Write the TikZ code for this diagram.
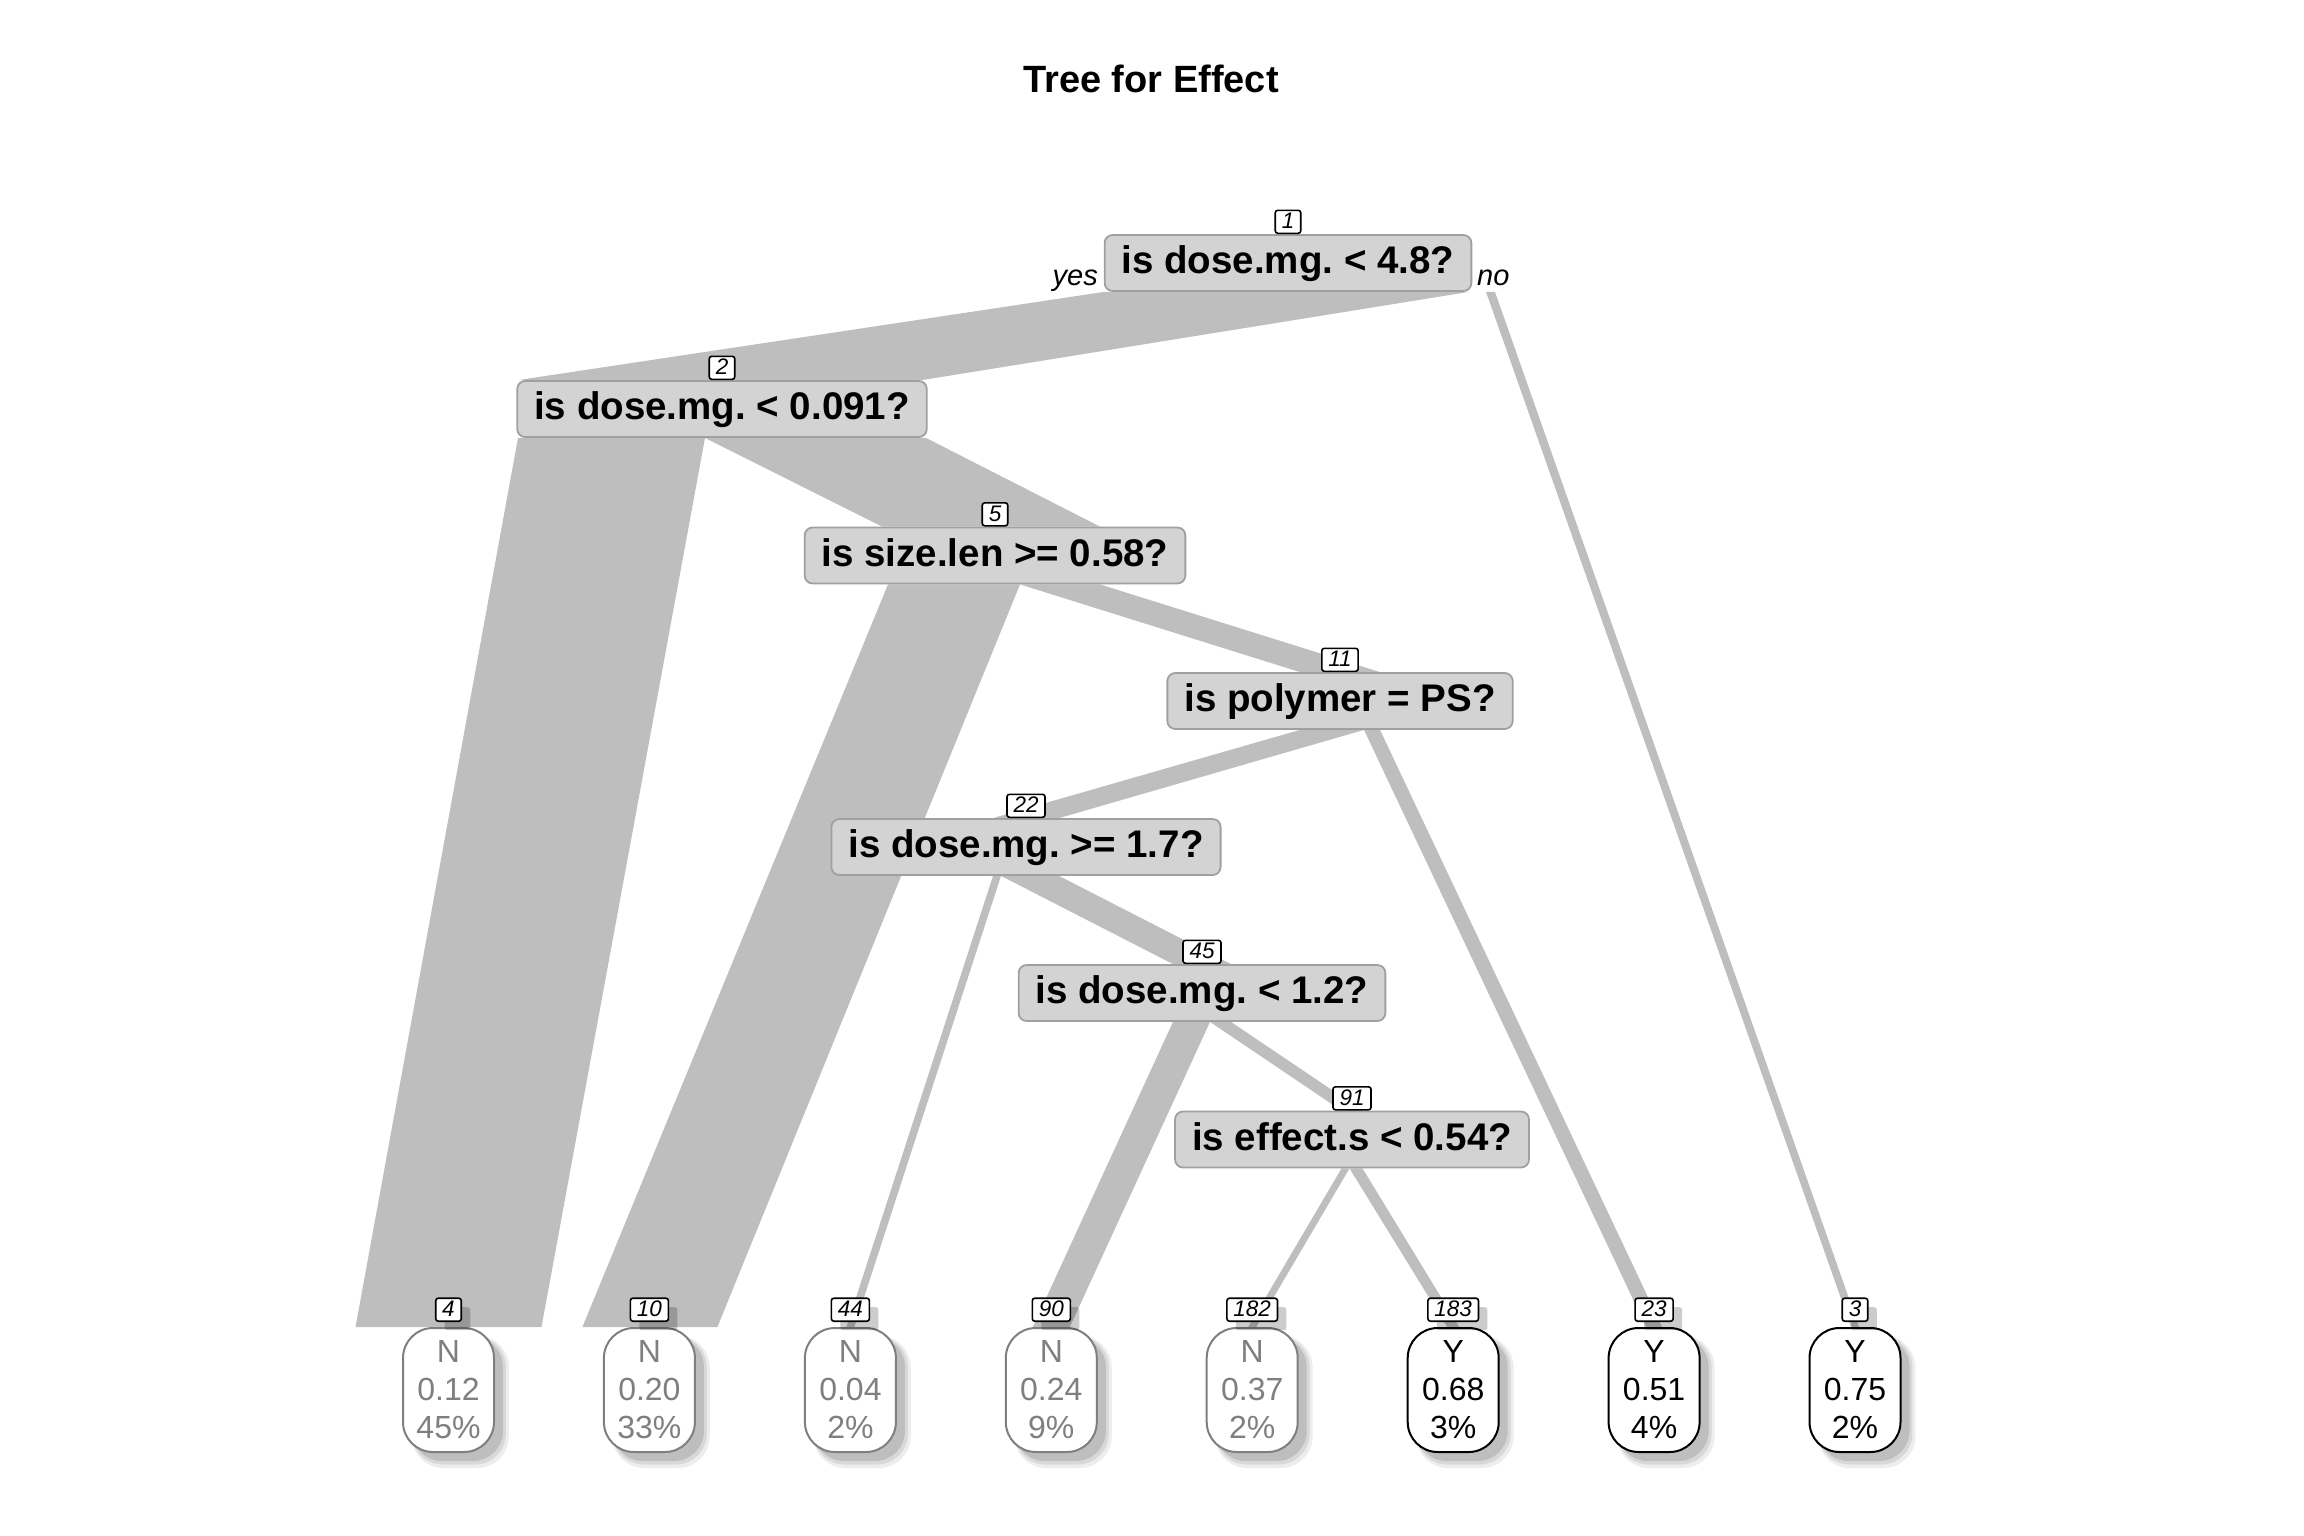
\documentclass[tikz,border=0pt]{standalone}
\usepackage{fontspec}
\setmainfont{Liberation Sans}
\usetikzlibrary{shadows}
\definecolor{bandgray}{RGB}{190,190,190}
\definecolor{splitfill}{RGB}{211,211,211}
\definecolor{splitdraw}{RGB}{160,160,160}
\definecolor{leafgray}{RGB}{127,127,127}
\pgfdeclarelayer{bg}
\pgfsetlayers{bg,main}
\frenchspacing
\begin{document}
\begin{tikzpicture}[x=1pt,y=-1pt,
  band/.style={fill=bandgray,draw=none},
  split/.style={draw=splitdraw,fill=splitfill,line width=1.8pt,rounded corners=8pt,
    minimum height=56pt,inner xsep=17pt,inner ysep=0pt,
    font=\fontsize{38.5}{44}\selectfont\bfseries,text height=28pt,text depth=7pt},
  leafshadow/.style={
    drop shadow={shadow xshift=11pt,shadow yshift=-11pt,shadow scale=1.07,fill=black,opacity=0.07},
    drop shadow={shadow xshift=10pt,shadow yshift=-10pt,shadow scale=1.035,fill=black,opacity=0.09},
    drop shadow={shadow xshift=9pt,shadow yshift=-9pt,fill=black,opacity=0.12}},
  leafbase/.style={fill=white,line width=2pt,rounded corners=30pt,minimum width=91pt,
    minimum height=124pt,inner sep=0pt,align=center,
    font=\fontsize{32}{38}\selectfont,leafshadow},
  leafN/.style={leafbase,draw=leafgray,text=leafgray},
  leafY/.style={leafbase,draw=black,text=black},
  numbox/.style={draw=black,fill=white,line width=1.6pt,rounded corners=2.5pt,
    inner xsep=6.5pt,inner ysep=2.5pt,font=\fontsize{22.5}{26}\selectfont\itshape,
    text height=16pt,text depth=2pt},
  numshadow/.style={
    drop shadow={shadow xshift=9pt,shadow yshift=-9pt,fill=black,opacity=0.2}},
  leafnum/.style={numbox,numshadow,anchor=south},
  yn/.style={font=\fontsize{29}{34}\selectfont\itshape,inner sep=0pt}
]
\useasboundingbox (0,0) rectangle (2304,1536);

% title
\node[font=\fontsize{38}{44}\selectfont\bfseries,anchor=base] (title) at (1151,93) {Tree for Effect};

% split nodes
\node[split] (n1) at (1288,263) {is dose.mg. < 4.8?};
\node[split] (n2) at (722,409) {is dose.mg. < 0.091?};
\node[split] (n5) at (995,555.5) {is size.len >= 0.58?};
\node[split] (n11) at (1340,701) {is polymer = PS?};
\node[split] (n22) at (1026,847) {is dose.mg. >= 1.7?};
\node[split] (n45) at (1202,993) {is dose.mg. < 1.2?};
\node[split] (n91) at (1352,1139.5) {is effect.s < 0.54?};

% split node numbers
\node[numbox,anchor=south] (k1) at (n1.north) {1};
\node[numbox,anchor=south] (k2) at (n2.north) {2};
\node[numbox,anchor=south] (k5) at (n5.north) {5};
\node[numbox,anchor=south] (k11) at (n11.north) {11};
\node[numbox,anchor=south] (k22) at (n22.north) {22};
\node[numbox,anchor=south] (k45) at (n45.north) {45};
\node[numbox,anchor=south] (k91) at (n91.north) {91};

% yes / no
\node[yn,anchor=base east] (yes) at (1098,285) {yes};
\node[yn,anchor=base west] (no) at (1477,285) {no};

% leaves
\node[leafN] (l4) at (448.5,1390) {N\\0.12\\45\%};
\node[leafN] (l10) at (649.4,1390) {N\\0.20\\33\%};
\node[leafN] (l44) at (850.4,1390) {N\\0.04\\2\%};
\node[leafN] (l90) at (1051.3,1390) {N\\0.24\\9\%};
\node[leafN] (l182) at (1252.2,1390) {N\\0.37\\2\%};
\node[leafY] (l183) at (1453.2,1390) {Y\\0.68\\3\%};
\node[leafY] (l23) at (1654.1,1390) {Y\\0.51\\4\%};
\node[leafY] (l3) at (1855,1390) {Y\\0.75\\2\%};

% leaf numbers
\node[leafnum] (k4) at ([yshift=5pt]l4.north) {4};
\node[leafnum] (k10) at ([yshift=5pt]l10.north) {10};
\node[leafnum] (k44) at ([yshift=5pt]l44.north) {44};
\node[leafnum] (k90) at ([yshift=5pt]l90.north) {90};
\node[leafnum] (k182) at ([yshift=5pt]l182.north) {182};
\node[leafnum] (k183) at ([yshift=5pt]l183.north) {183};
\node[leafnum] (k23) at ([yshift=5pt]l23.north) {23};
\node[leafnum] (k3) at ([yshift=5pt]l3.north) {3};

% branches (behind everything)
\begin{pgfonlayer}{bg}
\fill[band] ([xshift=-184pt]n1.south) -- ([xshift=181pt]n1.south) -- ([xshift=200pt]n2.north) -- ([xshift=-204pt]n2.north) -- cycle;
\fill[band] ([xshift=198pt]n1.south) -- ([xshift=207pt]n1.south) -- ([xshift=4pt]l3.north) -- ([xshift=-4pt]l3.north) -- cycle;
\fill[band] ([xshift=-204pt]n2.south) -- ([xshift=-17pt]n2.south) -- ([xshift=93pt]l4.north) -- ([xshift=-93pt]l4.north) -- cycle;
\fill[band] ([xshift=-17pt]n2.south) -- ([xshift=204pt]n2.south) -- ([xshift=105pt]n5.north) -- ([xshift=-113pt]n5.north) -- cycle;
\fill[band] ([xshift=-107pt]n5.south) -- ([xshift=25pt]n5.south) -- ([xshift=68pt]l10.north) -- ([xshift=-67pt]l10.north) -- cycle;
\fill[band] ([xshift=25pt]n5.south) -- ([xshift=105pt]n5.south) -- ([xshift=40pt]n11.north) -- ([xshift=-40pt]n11.north) -- cycle;
\fill[band] ([xshift=-40pt]n11.south) -- ([xshift=24pt]n11.south) -- ([xshift=33pt]n22.north) -- ([xshift=-33pt]n22.north) -- cycle;
\fill[band] ([xshift=24pt]n11.south) -- ([xshift=40pt]n11.south) -- ([xshift=8pt]l23.north) -- ([xshift=-8pt]l23.north) -- cycle;
\fill[band] ([xshift=-33pt]n22.south) -- ([xshift=-25pt]n22.south) -- ([xshift=4pt]l44.north) -- ([xshift=-4pt]l44.north) -- cycle;
\fill[band] ([xshift=-25pt]n22.south) -- ([xshift=33pt]n22.south) -- ([xshift=29pt]n45.north) -- ([xshift=-29pt]n45.north) -- cycle;
\fill[band] ([xshift=-29pt]n45.south) -- ([xshift=8pt]n45.south) -- ([xshift=18.5pt]l90.north) -- ([xshift=-18.5pt]l90.north) -- cycle;
\fill[band] ([xshift=8pt]n45.south) -- ([xshift=29pt]n45.south) -- ([xshift=10.5pt]n91.north) -- ([xshift=-10.5pt]n91.north) -- cycle;
\fill[band] ([xshift=-10.5pt]n91.south) -- ([xshift=-2.5pt]n91.south) -- ([xshift=4pt]l182.north) -- ([xshift=-4pt]l182.north) -- cycle;
\fill[band] ([xshift=-2.5pt]n91.south) -- ([xshift=10.5pt]n91.south) -- ([xshift=6pt]l183.north) -- ([xshift=-6pt]l183.north) -- cycle;
\end{pgfonlayer}
\end{tikzpicture}
\end{document}
